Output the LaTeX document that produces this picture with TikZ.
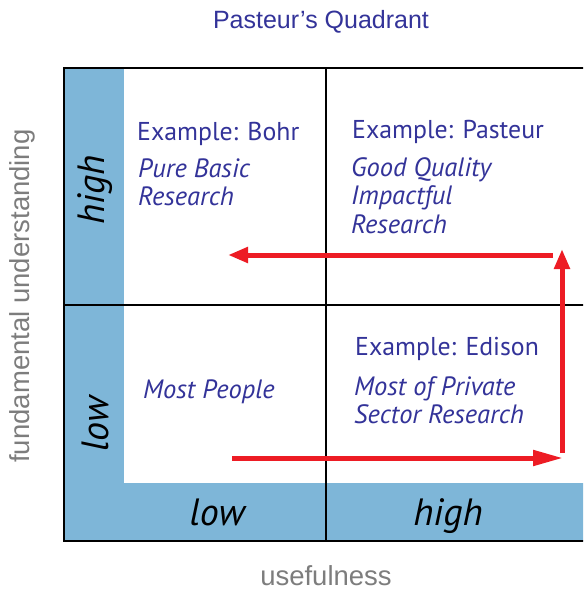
\documentclass[tikz,border=0pt]{standalone}
\usepackage{fontspec}
\setmainfont{Liberation Sans}
\newfontfamily\qfont{PT Sans}
\usetikzlibrary{arrows.meta}
\definecolor{qblue}{RGB}{126,182,216}
\definecolor{tblue}{RGB}{51,51,153}
\definecolor{agray}{RGB}{125,125,125}
\definecolor{ared}{RGB}{237,28,36}
\tikzset{
  qtext/.style={anchor=base west, inner sep=0pt, text=tblue, font=\qfont\fontsize{25.8}{30}\selectfont},
  qital/.style={qtext, font=\qfont\itshape\fontsize{26.5}{30}\selectfont},
  axlab/.style={inner sep=0pt, text=black, font=\qfont\itshape\fontsize{38}{44}\selectfont},
  grlab/.style={inner sep=0pt, text=agray, font=\fontsize{27.5}{32}\selectfont},
  redarrow/.style={draw=ared, line width=5pt},
  grid/.style={line width=1.5pt, draw=black}
}
\begin{document}
\begin{tikzpicture}[x=1pt,y=-1pt]
\clip (0,0) rectangle (583,591);
\fill[white] (0,0) rectangle (583,591);
% blue axis bands
\fill[qblue] (64,68) rectangle (124,541);
\fill[qblue] (64,483) rectangle (700,541);
% grid
\draw[grid] (326,68) -- (326,541);
\draw[grid] (64,305) -- (700,305);
\draw[line width=2pt] (700,68) -- (64,68) -- (64,541) -- (700,541);
% title and axis titles
\node[inner sep=0pt, text=tblue, font=\fontsize{25}{30}\selectfont] (title) at (321,22) {Pasteur’s Quadrant};
\node[grlab, rotate=90] (ylab) at (22,296) {fundamental understanding};
\node[grlab] (xlab) at (326,576) {usefulness};
% axis level labels
\node[axlab, rotate=90] (yhigh) at (95,190) {high};
\node[axlab, rotate=90] (ylow) at (95,424) {low};
\node[axlab, anchor=base] (xlow) at (217,525) {low};
\node[axlab, anchor=base] (xhigh) at (448,525) {high};
% quadrant texts
\node[qtext] (bohr) at (137,140) {Example: Bohr};
\node[qital] (bohr1) at (138,177) {Pure Basic};
\node[qital] (bohr2) at (138,205) {Research};
\node[qtext] (past) at (352,139) {Example: Pasteur};
\node[qital] (past1) at (351,176) {Good Quality};
\node[qital] (past2) at (351,204) {Impactful};
\node[qital] (past3) at (351,233) {Research};
\node[qtext] (edis) at (355,355) {Example: Edison};
\node[qital] (edis1) at (354,395) {Most of Private};
\node[qital] (edis2) at (354,423) {Sector Research};
\node[qital] (most) at (143,398) {Most People};
% arrows
\coordinate (a1) at (232,458);
\coordinate (a2) at (563,458);
\coordinate (a3) at (562,453);
\coordinate (a4) at (562,249);
\coordinate (a5) at (553,255);
\coordinate (a6) at (228,255);
\draw[redarrow, -{Triangle[length=30pt,width=15pt]}] (a1) -- (a2);
\draw[redarrow, -{Triangle[length=20pt,width=15pt]}] (a3) -- (a4);
\draw[redarrow, -{Triangle[length=20pt,width=15pt]}] (a5) -- (a6);
\end{tikzpicture}
\end{document}
